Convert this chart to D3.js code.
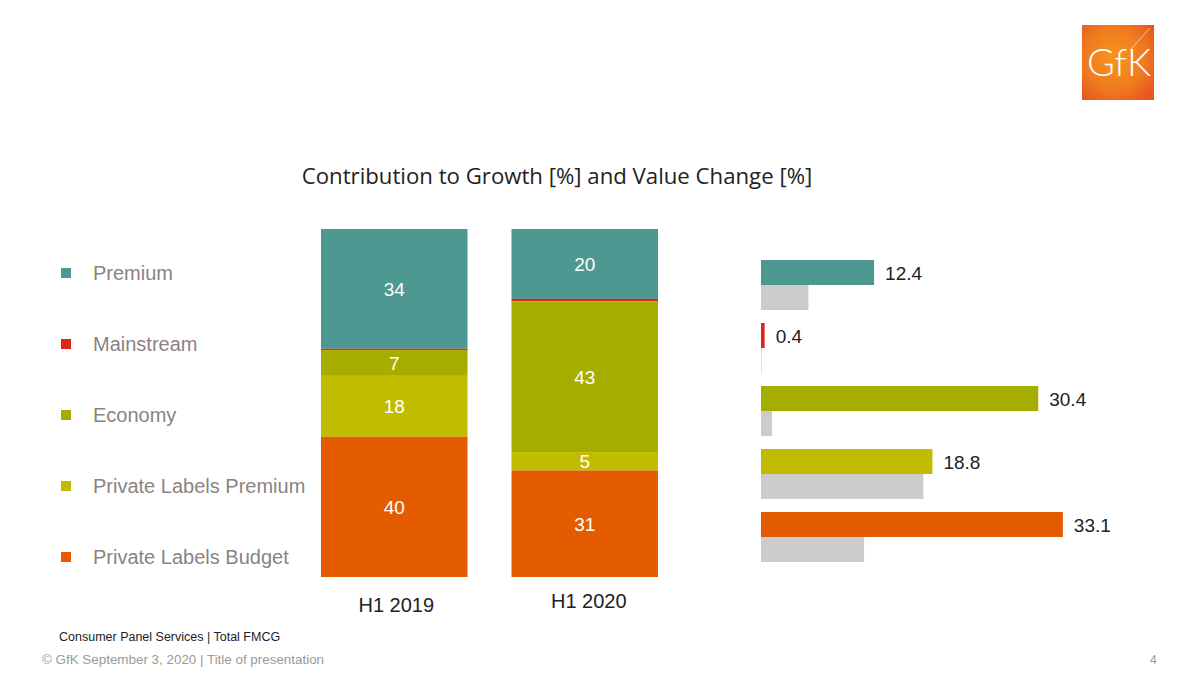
<!DOCTYPE html>
<html><head><meta charset="utf-8">
<script src="https://cdn.jsdelivr.net/npm/d3@7"></script>
<style>body{margin:0;background:#fff}svg{display:block}</style>
</head><body>
<svg id="c" width="1200" height="675"></svg>
<script>
// ---- data ----
const segments = ["Premium", "Mainstream", "Economy", "Private Labels Premium", "Private Labels Budget"];
const periods = ["H1 2019", "H1 2020"];
const share2019 = [34.4, 0.4, 7.4, 17.5, 40.3];
const share2020 = [20.1, 0.7, 43.3, 5.3, 30.6];
const valueChangeCurrent = [12.4, 0.4, 30.4, 18.8, 33.1];
const valueChangePrevious = [5.2, 0.05, 1.2, 17.8, 11.3];
const colors = ["#4d9891", "#e2231a", "#a5ae00", "#c2bc00", "#e55b00"];
const titleText = "Contribution to Growth [%] and Value Change [%]";

const svg = d3.select("#c");
const SANS = "Arial, 'Liberation Sans', sans-serif";

// Title
svg.append("text").attr("x", 557).attr("y", 184).attr("text-anchor", "middle")
  .attr("font-family", "'Open Sans', 'Noto Sans', sans-serif").attr("font-size", 22.2)
  .attr("fill", "#222").text(titleText);

// Legend
const legY = d3.scalePoint().domain(segments).range([273, 557]);
const leg = svg.append("g").selectAll("g").data(segments).join("g")
  .attr("transform", d => `translate(0,${legY(d)})`);
leg.append("rect").attr("x", 61).attr("y", -5).attr("width", 10).attr("height", 10)
  .attr("fill", (d, i) => colors[i]);
leg.append("text").attr("x", 93).attr("y", 7).attr("font-family", SANS).attr("font-size", 20)
  .attr("fill", "#8a8382").text(d => d);

// Stacked 100% bars
const rows = periods.map((p, j) => {
  const o = {period: p};
  segments.forEach((s, i) => o[s] = (j === 0 ? share2019 : share2020)[i]);
  return o;
});
const stack = d3.stack().keys(segments).order(d3.stackOrderReverse);
const series = stack(rows);
const xB = d3.scaleBand().domain(periods).range([321, 658]).paddingInner(44 / 190.5).paddingOuter(0);
const yS = d3.scaleLinear().domain([0, 100]).range([577, 229]);
const sg = svg.append("g").selectAll("g").data(series).join("g")
  .attr("fill", d => colors[segments.indexOf(d.key)]);
sg.selectAll("rect").data(d => d).join("rect")
  .attr("x", d => xB(d.data.period)).attr("width", xB.bandwidth())
  .attr("y", d => yS(d[1])).attr("height", d => yS(d[0]) - yS(d[1]));
series.forEach(s => {
  s.forEach(d => {
    const v = d[1] - d[0];
    if (v < 3) return;
    svg.append("text").attr("x", xB(d.data.period) + xB.bandwidth() / 2)
      .attr("y", (yS(d[0]) + yS(d[1])) / 2 + 7)
      .attr("text-anchor", "middle").attr("font-family", SANS).attr("font-size", 19)
      .attr("fill", "#fff").text(Math.round(v));
  });
});
// category labels
const catY = [612, 608];
periods.forEach((p, j) => {
  svg.append("text").attr("x", xB(p) + xB.bandwidth() / 2 + (j === 0 ? 2 : 4)).attr("y", catY[j])
    .attr("text-anchor", "middle").attr("font-family", SANS).attr("font-size", 20)
    .attr("fill", "#222").text(p);
});

// Horizontal value change bars
const xH = d3.scaleLinear().domain([0, 10]).range([761, 852.2]);
const yH = d3.scaleBand().domain(segments).range([253.5, 568.5]).paddingInner(13 / 63).paddingOuter(13 / 126);
const ySub = d3.scaleBand().domain(["cur", "prev"]).range([0, yH.bandwidth()]);
const hg = svg.append("g");
hg.selectAll("rect.prev").data(segments).join("rect").attr("class", "prev")
  .attr("x", xH(0)).attr("y", d => yH(d) + ySub("prev"))
  .attr("width", (d, i) => Math.max(0.6, xH(valueChangePrevious[i]) - xH(0)))
  .attr("height", ySub.bandwidth()).attr("fill", "#cccccc");
hg.selectAll("rect.cur").data(segments).join("rect").attr("class", "cur")
  .attr("x", xH(0)).attr("y", d => yH(d) + ySub("cur"))
  .attr("width", (d, i) => xH(valueChangeCurrent[i]) - xH(0))
  .attr("height", ySub.bandwidth()).attr("fill", (d, i) => colors[i]);
hg.selectAll("text").data(segments).join("text")
  .attr("x", (d, i) => xH(valueChangeCurrent[i]) + 11)
  .attr("y", d => yH(d) + ySub("cur") + ySub.bandwidth() / 2 + 7)
  .attr("font-family", SANS).attr("font-size", 19).attr("fill", "#222")
  .text((d, i) => d3.format(".1f")(valueChangeCurrent[i]));

// Footer
svg.append("text").attr("x", 59).attr("y", 641).attr("font-family", SANS).attr("font-size", 12.5)
  .attr("fill", "#222").text("Consumer Panel Services | Total FMCG");
svg.append("text").attr("x", 42).attr("y", 664).attr("font-family", SANS).attr("font-size", 13.4)
  .attr("fill", "#9a9a9a").text("© GfK September 3, 2020 | Title of presentation");
svg.append("text").attr("x", 1150).attr("y", 664).attr("font-family", SANS).attr("font-size", 12)
  .attr("fill", "#9a9a9a").text("4");

// Logo
const defs = svg.append("defs");
const rg = defs.append("radialGradient").attr("id", "lg").attr("cx", "45%").attr("cy", "45%").attr("r", "70%");
rg.append("stop").attr("offset", "0%").attr("stop-color", "#f7951d");
rg.append("stop").attr("offset", "60%").attr("stop-color", "#f07a1f");
rg.append("stop").attr("offset", "100%").attr("stop-color", "#e5541d");
svg.append("rect").attr("x", 1082).attr("y", 25).attr("width", 72).attr("height", 75).attr("fill", "url(#lg)");
svg.append("line").attr("x1", 1130).attr("y1", 50).attr("x2", 1150).attr("y2", 28)
  .attr("stroke", "#fff").attr("stroke-opacity", 0.6).attr("stroke-width", 1);
svg.append("text").attr("x", 1119).attr("y", 76).attr("text-anchor", "middle")
  .attr("font-family", "Lato, 'Open Sans', sans-serif").attr("font-weight", 300).attr("font-size", 38)
  .attr("fill", "#fff").text("GfK");
</script>
</body></html>
